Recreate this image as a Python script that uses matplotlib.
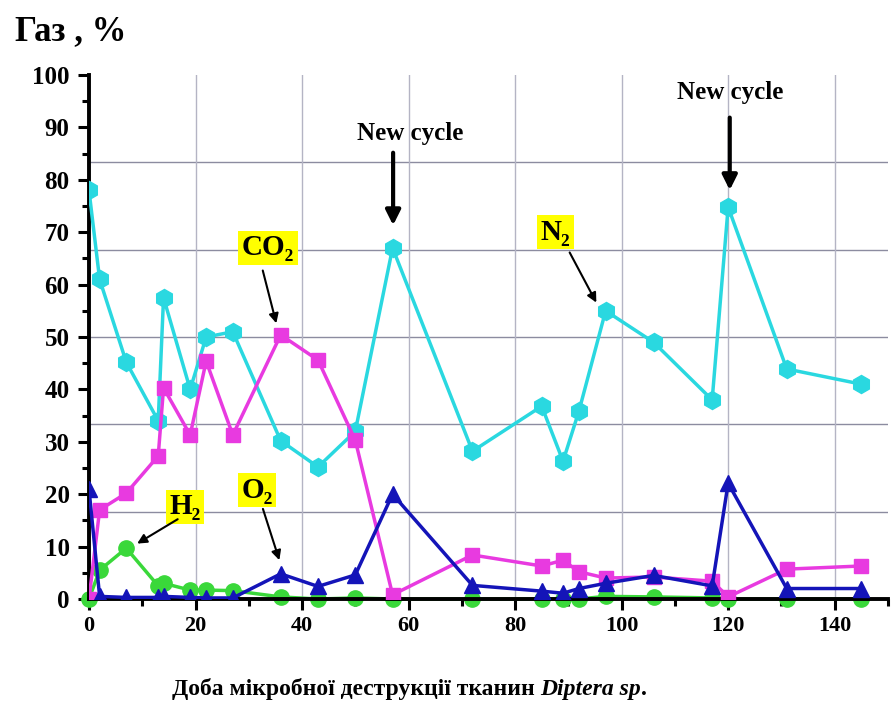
import matplotlib.pyplot as plt
from matplotlib.ticker import MultipleLocator

# доба
days = [0, 2, 7, 13, 14, 19, 22, 27, 36, 43, 50, 57, 72, 85, 89, 92, 97, 106, 117, 120, 131, 145]

n2 = [78, 61, 45.2, 34, 57.5, 40, 50, 51, 30.2, 25.2, 32, 67, 28.2, 36.8, 26.3, 35.9, 55, 49, 38, 74.8, 43.9, 41]
co2 = [0, 17, 20.2, 27.3, 40.3, 31.3, 45.4, 31.3, 50.4, 45.6, 30.3, 0.8, 8.4, 6.3, 7.4, 5.2, 4, 4.2, 3.4, 0.4, 5.7, 6.3]
o2 = [21, 0.5, 0.3, 0.3, 0.5, 0.3, 0.2, 0.2, 4.8, 2.4, 4.6, 20, 2.6, 1.5, 1.1, 2, 3, 4.5, 2.5, 22.1, 2, 2]
h2 = [0, 5.5, 9.7, 2.5, 3, 1.7, 1.7, 1.6, 0.4, 0, 0.2, 0, 0, 0, 0, 0, 0.5, 0.4, 0.2, 0, 0, 0]

serif = ['Liberation Serif', 'DejaVu Serif']
plt.rcParams['font.family'] = serif
plt.rcParams['font.weight'] = 'bold'

fig = plt.figure(figsize=(8.96, 7.01), dpi=100)
ax = fig.add_axes([0.0993, 0.1455, 0.8917, 0.7475])

# сітка
for k in range(1, 6):
    ax.axhline(100 / 6 * k, color='#8c8ca0', lw=1, zorder=0)
for xv in range(20, 150, 20):
    ax.axvline(xv, color='#b4b4c4', lw=1, zorder=0)

ax.plot(days, n2, color='#2ad8e0', lw=2.5, marker='h', ms=13, zorder=3)
ax.plot(days, co2, color='#e83ae0', lw=2.5, marker='s', ms=10, zorder=4)
ax.plot(days, o2, color='#1414b8', lw=2.5, marker='^', ms=12, zorder=5)
ax.plot(days, h2, color='#3ad83a', lw=2.5, marker='o', ms=11, zorder=2, clip_on=False)

ax.set_xlim(0, 150)
ax.set_ylim(0, 100)
ax.xaxis.set_minor_locator(MultipleLocator(10))
ax.yaxis.set_major_locator(MultipleLocator(10))
ax.yaxis.set_minor_locator(MultipleLocator(5))
ax.set_xticks([0, 20, 40, 60, 80, 100, 120, 140])
ax.tick_params(which='major', direction='out', length=8, width=2.2, pad=6)
ax.tick_params(which='minor', direction='out', length=5, width=2.2)
ax.tick_params(axis='x', labelsize=16, pad=4)
ax.tick_params(axis='y', labelsize=18)
for lab in ax.get_xticklabels() + ax.get_yticklabels():
    lab.set_fontweight('bold')

for s in ['top', 'right']:
    ax.spines[s].set_visible(False)
for s in ['left', 'bottom']:
    ax.spines[s].set_linewidth(2.8)

fig.text(0.017, 0.955, 'Газ , %', fontsize=25, fontweight='bold', va='center', ha='left')
t1 = fig.text(0.192, 0.008, 'Доба мікробної деструкції тканин ', fontsize=17, fontweight='bold',
              ha='left', va='baseline')
t2 = ax.annotate('Diptera sp', xy=(1, 0), xycoords=t1, fontsize=17, fontweight='bold',
                 style='italic', ha='left', va='bottom')
ax.annotate('.', xy=(1, 0), xycoords=t2, fontsize=17, fontweight='bold', ha='left', va='bottom')

yellow = dict(boxstyle='square,pad=0.12', facecolor='#ffff00', edgecolor='none')
arrow = dict(arrowstyle='-|>', color='black', lw=1.5, mutation_scale=14)
big_arrow = dict(arrowstyle='-|>', color='black', lw=3, mutation_scale=22)

labels = [('CO₂', (33.6, 67), (32.5, 63.2), (35.3, 52.1)),
          ('H₂', (18, 17.6), (17.1, 15.5), (8.6, 10.3)),
          ('O₂', (31.6, 20.8), (32.5, 17.7), (35.9, 6.9)),
          ('N₂', (87.6, 70), (90, 66.6), (95.5, 56.1))]
for txt, pos, start, tip in labels:
    ax.text(pos[0], pos[1], txt, fontsize=21, fontweight='bold', ha='center', va='center',
            bbox=yellow, zorder=6)
    ax.annotate('', xy=tip, xytext=start, arrowprops=arrow, zorder=6)

ax.text(60.3, 88.9, 'New cycle', fontsize=18, fontweight='bold', ha='center', va='center')
ax.annotate('', xy=(57.1, 70.8), xytext=(57.1, 85.7), arrowprops=big_arrow)
ax.text(120.3, 96.6, 'New cycle', fontsize=18, fontweight='bold', ha='center', va='center')
ax.annotate('', xy=(120.3, 77.5), xytext=(120.3, 92.4), arrowprops=big_arrow)

fig.savefig('out.png', dpi=100)
